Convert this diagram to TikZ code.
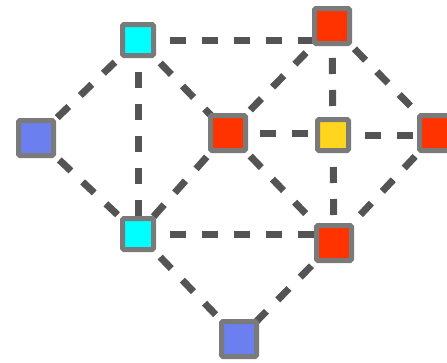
\documentclass[tikz,border=0pt]{standalone}
\usetikzlibrary{positioning, backgrounds}
\definecolor{sitecyan}{HTML}{00FFFF}
\definecolor{sitered}{HTML}{FF3300}
\definecolor{siteblue}{HTML}{6B7FEF}
\definecolor{siteyellow}{HTML}{FFD51E}
\definecolor{sitegray}{HTML}{7A7A7A}
\definecolor{linkgray}{HTML}{545454}
\tikzset{
  site/.style={draw=sitegray, line width=5pt, rounded corners=1.5pt, minimum size=31pt, inner sep=0pt},
  bigsite/.style={site, minimum size=35pt},
  link/.style={draw=linkgray, line width=7pt, dash pattern=on 16pt off 16pt}
}
\begin{document}
\begin{tikzpicture}[x=1pt, y=-1pt]
				\useasboundingbox (0,0) rectangle (447,362);
				% sites
				\node[site, fill=sitecyan] (c1) at (138,40) {};
				\node[bigsite, fill=sitered] (r1) at (332,26) {};
				\node[bigsite, fill=siteblue] (b1) at (36,138) {};
				\node[bigsite, fill=sitered] (r2) at (228,133) {};
				\node[site, fill=siteyellow] (y1) at (333,135) {};
				\node[bigsite, fill=sitered] (r3) at (437,133) {};
				\node[site, fill=sitecyan] (c2) at (138,234) {};
				\node[bigsite, fill=sitered] (r4) at (334,243) {};
				\node[bigsite, fill=siteblue] (b2) at (239,339) {};
				
				% links, behind the sites
				\begin{scope}[on background layer]
					\draw[link] (c1.center) -- (c1.center -| r1.center);
					\draw[link] (c1.center) -- (b1.center);
					\draw[link] (c1.center) -- (c2.center);
					\draw[link] (c1.center) -- (r2.center);
					\draw[link] (b1.center) -- (c2.center);
					\draw[link] (r2.center) -- (r1.center);
					\draw[link] (r2.center) -- (r2.center -| y1.center);
					\draw[link] (r2.center) -- (c2.center);
					\draw[link] (r2.center) -- (r4.center);
					\draw[link] (r1.center) -- (y1.center);
					\draw[link] (r1.center) -- (r3.center);
					\draw[link] (y1.center) -- (y1.center -| r3.center);
					\draw[link] (y1.center) -- (r4.center);
					\draw[link] (r3.center) -- (r4.center);
					\draw[link] (c2.center) -- (c2.center -| r4.center);
					\draw[link] (c2.center) -- (b2.center);
					\draw[link] (r4.center) -- (b2.center);
				\end{scope}
			\end{tikzpicture}
\end{document}
